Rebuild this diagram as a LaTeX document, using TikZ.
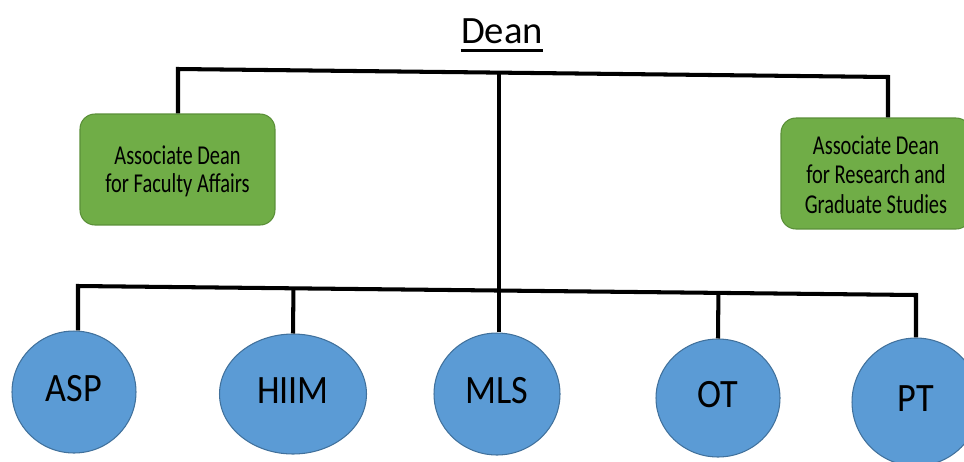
\documentclass[tikz,border=0pt]{standalone}
\usepackage{fontspec}
\usepackage{graphicx}
\setmainfont{Carlito}
\usetikzlibrary{shapes.geometric,calc}
\definecolor{boxgreen}{HTML}{70AD47}
\definecolor{boxgreenedge}{HTML}{5A8F38}
\definecolor{unitblue}{HTML}{5B9BD5}
\definecolor{unitblueedge}{HTML}{41719C}
% narrow, tall lettering used inside the shapes
\newcommand{\narrowtext}[2]{\scalebox{#1}[1]{\begin{tabular}{@{}c@{}}#2\end{tabular}}}
% lower the lettering a little while keeping the node centred on its box
\newcommand{\lowered}[2]{\raisebox{-#1}[\height][\depth]{#2}}
\tikzset{
  link/.style={draw=black,line width=2.3pt},
  officebox/.style={rectangle,rounded corners=8.5pt,fill=boxgreen,draw=boxgreenedge,
    line width=0.6pt,align=center,inner sep=0pt,font=\fontsize{15.5}{16}\selectfont},
  unit/.style={ellipse,fill=unitblue,draw=unitblueedge,line width=0.6pt,inner sep=0pt,
    font=\fontsize{22.9}{26}\selectfont}
}
\begin{document}
\begin{tikzpicture}[x=0.02cm,y=-0.02cm]
\useasboundingbox (0,0) rectangle (964,461);
\clip (0,0) rectangle (964,461);

% head of the school, with a heavy underline
\node[font=\fontsize{22}{24}\selectfont,inner sep=0pt,anchor=base] (dean) at (502,43) {Dean};
\draw[line width=1.7pt] ([yshift=-4pt]dean.base west) -- ([yshift=-4pt]dean.base east);

% associate deans
\node[officebox,minimum width=3.9cm,minimum height=2.22cm] (adfa) at (177.5,169.5)
  {\lowered{2pt}{\narrowtext{0.75}{Associate Dean\\for Faculty Affairs}}};
\node[officebox,minimum width=3.8cm,minimum height=2.22cm,
  font=\fontsize{15.5}{17}\selectfont] (adrgs) at (876,173.5)
  {\lowered{2.5pt}{\narrowtext{0.75}{Associate Dean\\for Research and\\Graduate Studies}}};

% programmes
\node[unit,minimum width=2.48cm,minimum height=2.44cm] (asp) at (74,392) {\narrowtext{0.9}{ASP}};
\node[unit,minimum width=2.94cm,minimum height=2.4cm] (hiim) at (293,394) {\narrowtext{0.9}{HIIM}};
\node[unit,minimum width=2.52cm,minimum height=2.44cm] (mls) at (497,394) {\narrowtext{0.9}{MLS}};
\node[unit,minimum width=2.48cm,minimum height=2.36cm] (ot) at (718,398) {\narrowtext{0.9}{OT}};
\node[unit,minimum width=2.56cm,minimum height=2.56cm] (pt) at (916,402) {\narrowtext{0.9}{PT}};

% upper bar
\coordinate (tbL) at (178,69);
\coordinate (tbR) at (888,77);
\draw[link] (adfa.north -| tbL) -- (tbL) -- (tbR) -- (adrgs.north -| tbR);

% lower bar
\coordinate (lbL) at (78,286);
\coordinate (lbR) at (916,295);
\draw[link] (asp.north -| lbL) -- (lbL) -- (lbR) -- (pt.north);
\draw[link] (hiim.north) -- ($(lbL)!(hiim.north)!(lbR)$);
\draw[link] (ot.north) -- ($(lbL)!(ot.north)!(lbR)$);

% trunk from the upper bar down to the programmes
\coordinate (trunkTop) at ($(tbL)!(500,0)!(tbR)$);
\draw[link] (trunkTop) -- (trunkTop |- mls.north);
\end{tikzpicture}
\end{document}
